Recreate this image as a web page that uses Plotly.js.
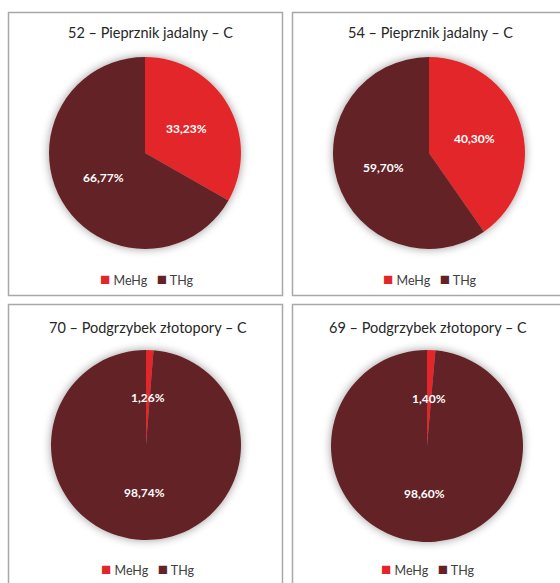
<!DOCTYPE html>
<html>
<head>
<meta charset="utf-8">
<script src="https://cdn.plot.ly/plotly-3.0.1.min.js"></script>
<style>
  html, body { margin: 0; padding: 0; background: #fff; }
  #chart { width: 560px; height: 583px; }
</style>
</head>
<body>
<div id="chart"></div>
<script>
// ---- data ----
const categories = ["MeHg", "THg"];
const titles = [
  "52 – Pieprznik jadalny – C",
  "54 – Pieprznik jadalny – C",
  "70 – Podgrzybek złotopory – C",
  "69 – Podgrzybek złotopory – C"
];
const sample52 = [33.23, 66.77];
const sample54 = [40.30, 59.70];
const sample70 = [1.26, 98.74];
const sample69 = [1.40, 98.60];
const seriesValues = [sample52, sample54, sample70, sample69];
const colors = ["#E3262A", "#632326"];

// ---- layout geometry (pixels) ----
const W = 560, H = 583;
const px = x => x / W;
const py = y => 1 - y / H;
const panels = [
  {box: [8.5, 12.5, 282.5, 295.5], cx: 145, cy: 153, r: 96, tx: 150, ty: 33, lx: 147, ly: 278},
  {box: [292.5, 12.5, 566, 295.5], cx: 429, cy: 153, r: 96, tx: 430, ty: 33, lx: 430, ly: 278},
  {box: [8.5, 304.5, 282.5, 590], cx: 146, cy: 445, r: 95, tx: 148, ty: 327, lx: 148, ly: 568},
  {box: [292.5, 304.5, 566, 590], cx: 427, cy: 446, r: 96, tx: 428, ty: 327, lx: 428, ly: 568}
];

const fontFam = "Lato, 'Open Sans', sans-serif";
const traces = [], shapes = [], annotations = [];
const layout = {
  width: W, height: H,
  margin: {l: 0, r: 0, t: 0, b: 0},
  paper_bgcolor: "#ffffff",
  font: {family: fontFam, color: "#404040"},
  showlegend: false
};

panels.forEach((p, i) => {
  const vals = seriesValues[i];
  traces.push({
    type: "pie",
    labels: categories,
    values: vals,
    sort: false,
    direction: "clockwise",
    rotation: 0,
    marker: {colors: colors, line: {width: 0}},
    textinfo: "none",
    hoverinfo: "label+percent",
    domain: {x: [px(p.cx - p.r), px(p.cx + p.r)], y: [py(p.cy + p.r), py(p.cy - p.r)]},
    showlegend: false
  });
  shapes.push({
    type: "rect", xref: "paper", yref: "paper",
    x0: px(p.box[0]), x1: px(p.box[2]), y0: py(p.box[3]), y1: py(p.box[1]),
    line: {color: "#A8A8A8", width: 1.5}, fillcolor: "rgba(0,0,0,0)", layer: "below"
  });
  annotations.push({
    xref: "paper", yref: "paper", x: px(p.tx), y: py(p.ty),
    xanchor: "center", yanchor: "middle", showarrow: false,
    text: titles[i], font: {size: 14.5, color: "#262626", family: fontFam}
  });
  // data labels at mid-angle of each slice, half radius
  const total = vals.reduce((a, b) => a + b, 0);
  let cum = 0;
  vals.forEach(v => {
    const mid = (cum + v / 2) / total * 2 * Math.PI;
    cum += v;
    const lxp = p.cx + Math.sin(mid) * p.r * 0.5;
    const lyp = p.cy - Math.cos(mid) * p.r * 0.5;
    annotations.push({
      xref: "paper", yref: "paper", x: px(lxp), y: py(lyp),
      xanchor: "center", yanchor: "middle", showarrow: false,
      text: "<b>" + v.toFixed(2).replace(".", ",") + "%</b>",
      font: {size: 12, color: "#ffffff", family: fontFam}
    });
  });
  // legend (one line, centered)
  const legendText = categories.map((c, k) =>
    '<span style="color:' + colors[k] + ';font-size:17px">■</span> ' + c).join("   ");
  annotations.push({
    xref: "paper", yref: "paper", x: px(p.lx), y: py(p.ly),
    xanchor: "center", yanchor: "middle", showarrow: false,
    text: legendText, font: {size: 12.5, color: "#404040", family: fontFam}
  });
});

layout.shapes = shapes;
layout.annotations = annotations;

Plotly.newPlot("chart", traces, layout, {displayModeBar: false, staticPlot: true}).then(gd => {
  const svg = gd.querySelector("svg.main-svg");
  const NS = "http://www.w3.org/2000/svg";
  let defs = svg.querySelector("defs");
  if (!defs) { defs = document.createElementNS(NS, "defs"); svg.insertBefore(defs, svg.firstChild); }
  const f = document.createElementNS(NS, "filter");
  f.setAttribute("id", "pieShadow");
  f.setAttribute("x", "-20%"); f.setAttribute("y", "-20%");
  f.setAttribute("width", "140%"); f.setAttribute("height", "140%");
  f.innerHTML = '<feGaussianBlur in="SourceAlpha" stdDeviation="5"/>' +
    '<feComponentTransfer><feFuncA type="linear" slope="0.4"/></feComponentTransfer>' +
    '<feMerge><feMergeNode/><feMergeNode in="SourceGraphic"/></feMerge>';
  defs.appendChild(f);
  gd.querySelectorAll(".pielayer g.trace").forEach(g => g.setAttribute("filter", "url(#pieShadow)"));
});
</script>
</body>
</html>
